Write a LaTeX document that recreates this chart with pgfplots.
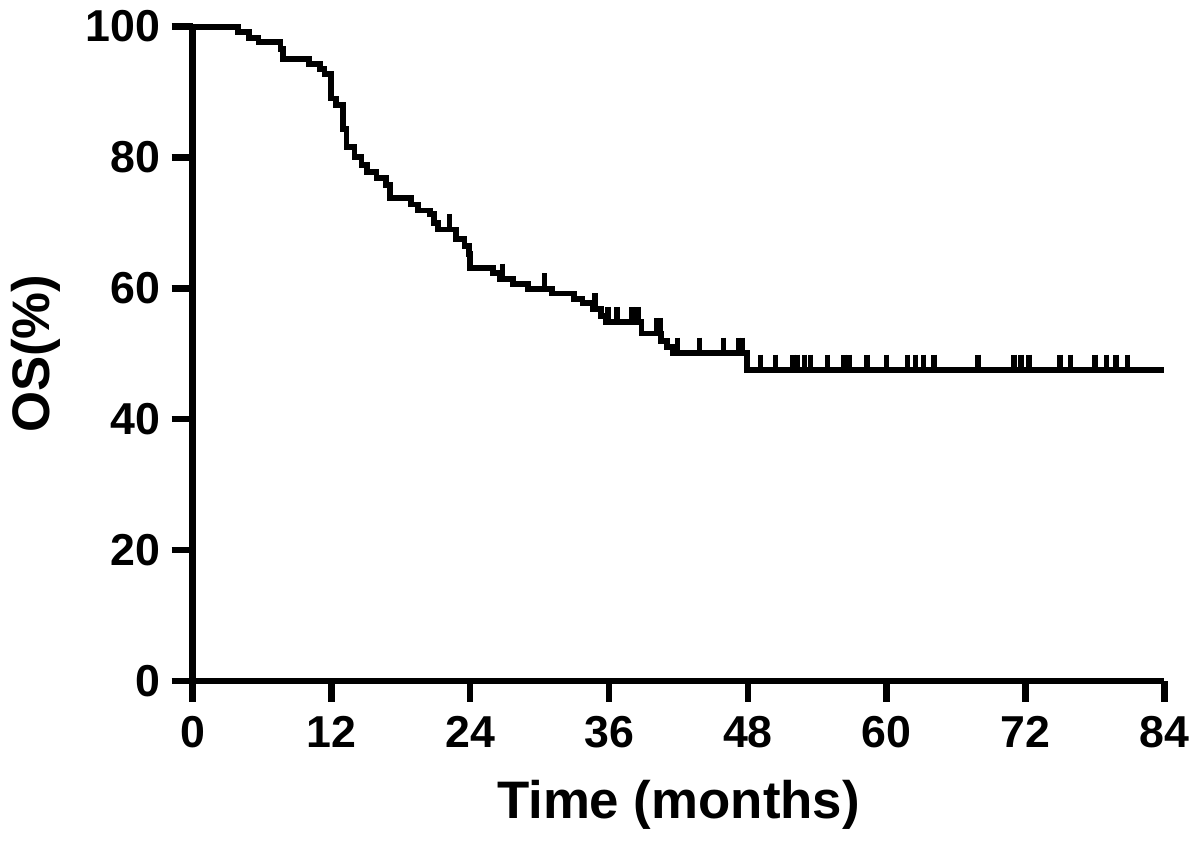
\documentclass[border=0pt]{standalone}
\usepackage{fontspec}
\setmainfont{Liberation Sans}
\usepackage{pgfplots}
\pgfplotsset{compat=1.18}

\begin{document}
\begin{tikzpicture}
  \begin{axis}[
      scale only axis,
      width=300pt, height=202pt,
      xmin=0, xmax=84, ymin=0, ymax=100,
      axis x line*=bottom, axis y line*=left,
      axis line style={line width=2pt, -},
      xtick={0,12,...,84}, ytick={0,20,...,100},
      tick align=outside, tick pos=left,
      major tick length=6.5pt,
      tick style={line width=2pt, black},
      /pgf/number format/assume math mode=true,
      ticklabel style={font=\fontsize{13.8}{16}\selectfont\bfseries},
      xticklabel style={yshift=-1pt},
      xlabel={Time (months)}, ylabel={OS(\%)},
      label style={font=\fontsize{16.3}{19}\selectfont\bfseries},
      xlabel style={yshift=-3pt},
      ylabel style={yshift=1pt},
      clip=false,
    ]

    % survival curve (value holds from t onward)
    \addplot[const plot, line width=1.8pt, black] coordinates {
      (0,100) (3.9,99.2) (4.9,98.2) (5.7,97.6) (7.6,96.6) (7.8,95.0)
      (10.1,94.3) (11.0,93.5) (11.4,92.7) (12.0,89.0) (12.4,88.0)
      (13.0,84.4) (13.3,81.6) (14.0,80.1) (14.6,78.9) (15.1,77.8)
      (15.9,76.8) (16.7,75.8) (17.1,73.8) (18.9,72.8) (19.5,71.9)
      (20.5,71.3) (20.9,70.0) (21.2,69.0) (22.8,67.5) (23.5,66.5)
      (23.9,65.2) (24.0,63.1) (26.0,62.4) (26.6,61.4) (27.7,60.7)
      (29.0,59.9) (31.1,59.2) (33.0,58.4) (33.7,57.7) (34.6,56.9)
      (35.3,55.8) (35.7,54.8) (38.8,53.1) (40.5,52.0) (41.0,51.0)
      (41.5,50.1) (47.9,47.5) (84,47.5)
    };

    % censored observations
    \addplot[only marks, mark=|, mark size=2.6pt,
      mark options={line width=1.7pt, yshift=2.2pt}, black] coordinates {
      (22.2,69.0) (26.8,61.4) (30.4,59.9) (34.8,56.9)
      (35.9,54.8) (36.7,54.8) (38.0,54.8) (38.5,54.8)
      (40.1,53.1) (40.4,53.1)
      (41.9,50.1) (43.8,50.1) (45.9,50.1) (47.2,50.1) (47.5,50.1)
      (49.1,47.5) (50.4,47.5) (51.9,47.5) (52.3,47.5) (52.9,47.5)
      (53.4,47.5) (54.9,47.5) (56.3,47.5) (56.8,47.5) (58.3,47.5)
      (60.0,47.5) (61.8,47.5) (62.5,47.5) (63.2,47.5) (64.1,47.5)
      (67.9,47.5) (71.0,47.5) (71.6,47.5) (72.3,47.5) (75.0,47.5)
      (75.9,47.5) (78.0,47.5) (79.0,47.5) (79.8,47.5) (80.8,47.5)
    };
  \end{axis}
\end{tikzpicture}
\end{document}
